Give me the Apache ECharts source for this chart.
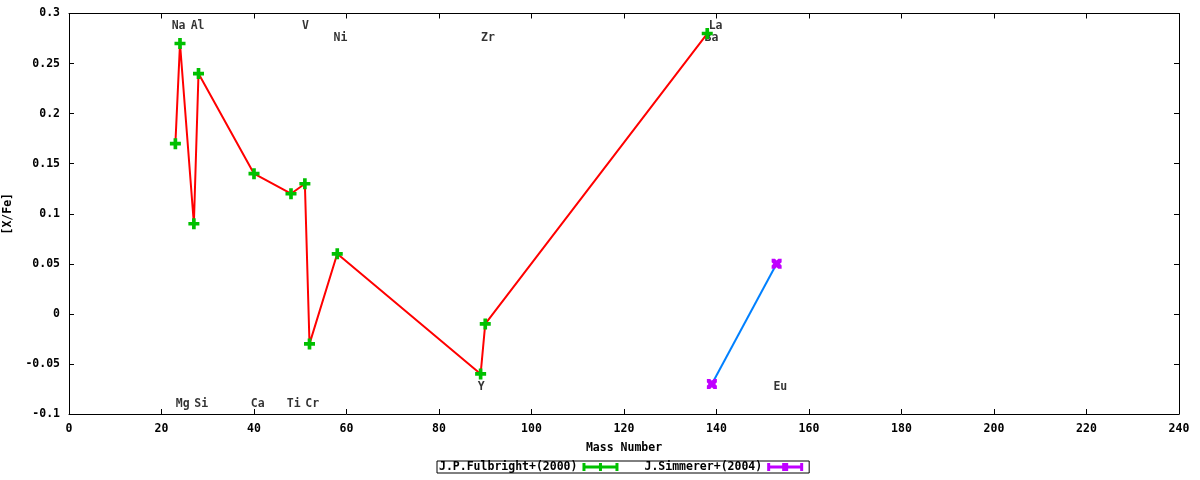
<!DOCTYPE html>
<html><head><meta charset="utf-8">
<script src="https://cdn.jsdelivr.net/npm/echarts@6/dist/echarts.min.js"></script>
<style>html,body{margin:0;padding:0;background:#fff}#c{width:1200px;height:480px}</style>
</head><body><div id="c"></div>
<script>
// Data
const fulbrightMass = [23, 24, 27, 28, 40, 48, 51, 52, 58, 89, 90, 138];
const fulbrightXFe  = [0.17, 0.27, 0.09, 0.24, 0.14, 0.12, 0.13, -0.03, 0.06, -0.06, -0.01, 0.28];
const simmererMass  = [139, 153];
const simmererXFe   = [-0.07, 0.05];
// Element labels (annotation positions in data units)
const labelText = ['Na','Mg','Al','Si','Ca','Ti','V','Cr','Ni','Y','Zr','Ba','La','Eu'];
const labelX    = [23.7, 24.6, 27.8, 28.6, 40.8, 48.6, 51.1, 52.6, 58.7, 89.1, 90.6, 138.9, 139.8, 153.8];
const labelY    = [0.2875, -0.0898, 0.2875, -0.0898, -0.0898, -0.0898, 0.2875, -0.0898, 0.2755, -0.073, 0.2755, 0.2755, 0.2875, -0.073];
const seriesNames = ['J.P.Fulbright+(2000)', 'J.Simmerer+(2004)'];

const FONT = '"DejaVu Sans Mono", "Liberation Mono", monospace';
const txt = {fontFamily: FONT, fontWeight: 'bold', fontSize: 11.5, color: '#000'};

const plusPath = 'path://M4,0H8V4H12V8H8V12H4V8H0V4H4Z';
const crossPath = 'path://M0,0L4,0L6,2L8,0L12,0L12,4L10,6L12,8L12,12L8,12L6,10L4,12L0,12L0,8L2,6L0,4Z';
const legendGreen = 'path://M0,0L3,0L3,2.5L16.5,2.5L16.5,0L19.5,0L19.5,2.5L33,2.5L33,0L36,0L36,8L33,8L33,5.5L19.5,5.5L19.5,8L16.5,8L16.5,5.5L3,5.5L3,8L0,8Z';
const legendPurple = 'path://M0,0L3,0L3,2.5L15,2.5L15,0L21,0L21,2.5L33,2.5L33,0L36,0L36,8L33,8L33,5.5L21,5.5L21,8L15,8L15,5.5L3,5.5L3,8L0,8Z';

const zip = (a, b) => a.map((v, i) => [v, b[i]]);
const labelData = labelText.map((t, i) => ({name: t, value: [labelX[i], labelY[i]]}));

const axisCommon = {
  axisLine: {show: true, onZero: false, lineStyle: {color: '#000', width: 1}},
  axisTick: {show: true, inside: true, length: 5, lineStyle: {color: '#000'}},
  splitLine: {show: false}
};

const chart = echarts.init(document.getElementById('c'));
chart.setOption({
  animation: false,
  backgroundColor: '#fff',
  grid: {left: 69, right: 21, top: 13.5, bottom: 66, show: false, containLabel: false, outerBoundsMode: 'none'},
  xAxis: [
    Object.assign({}, axisCommon, {
      type: 'value', min: 0, max: 240, interval: 20, position: 'bottom',
      name: 'Mass Number', nameLocation: 'middle', nameGap: 28,
      nameTextStyle: txt,
      axisLabel: Object.assign({}, txt, {margin: 9})
    }),
    Object.assign({}, axisCommon, {
      type: 'value', min: 0, max: 240, interval: 20, position: 'top',
      axisLabel: {show: false}
    })
  ],
  yAxis: [
    Object.assign({}, axisCommon, {
      type: 'value', min: -0.1, max: 0.3, interval: 0.05, position: 'left',
      name: '[X/Fe]', nameLocation: 'middle', nameGap: 50, nameRotate: 90,
      nameTextStyle: txt,
      axisLabel: Object.assign({}, txt, {margin: 9, formatter: v => String(+v.toFixed(2))})
    }),
    Object.assign({}, axisCommon, {
      type: 'value', min: -0.1, max: 0.3, interval: 0.05, position: 'right',
      axisLabel: {show: false}
    })
  ],
  legend: {
    data: [
      {name: seriesNames[0], icon: legendGreen},
      {name: seriesNames[1], icon: legendPurple}
    ],
    left: 437, top: 461,
    align: 'right',
    orient: 'horizontal',
    itemWidth: 36, itemHeight: 8, itemGap: 26,
    padding: [0, 6, 0, 2],
    borderColor: '#000', borderWidth: 1,
    selectedMode: false,
    textStyle: Object.assign({}, txt, {lineHeight: 10, padding: [0, 0, 0, 0]}),
    formatter: n => n
  },
  series: [
    {
      type: 'scatter', name: 'labels', z: 1, symbolSize: 1,
      itemStyle: {color: 'rgba(0,0,0,0)'},
      silent: true,
      label: Object.assign({show: true, position: 'inside', formatter: p => p.name, textBorderWidth: 0}, txt),
      data: labelData
    },
    {
      type: 'line', name: 'fulLine', z: 2, showSymbol: false, symbol: 'none',
      lineStyle: {color: '#ff0000', width: 2},
      data: zip(fulbrightMass, fulbrightXFe)
    },
    {
      type: 'line', name: 'simLine', z: 2, showSymbol: false, symbol: 'none',
      lineStyle: {color: '#0080ff', width: 2},
      data: zip(simmererMass, simmererXFe)
    },
    {
      type: 'scatter', name: seriesNames[0], z: 3, symbol: plusPath, symbolSize: 11,
      itemStyle: {color: '#00c000', opacity: 1},
      data: zip(fulbrightMass, fulbrightXFe)
    },
    {
      type: 'scatter', name: seriesNames[1], z: 3, symbol: crossPath, symbolSize: 10,
      itemStyle: {color: '#c000ff', opacity: 1},
      data: zip(simmererMass, simmererXFe)
    }
  ]
});
</script>
</body></html>
